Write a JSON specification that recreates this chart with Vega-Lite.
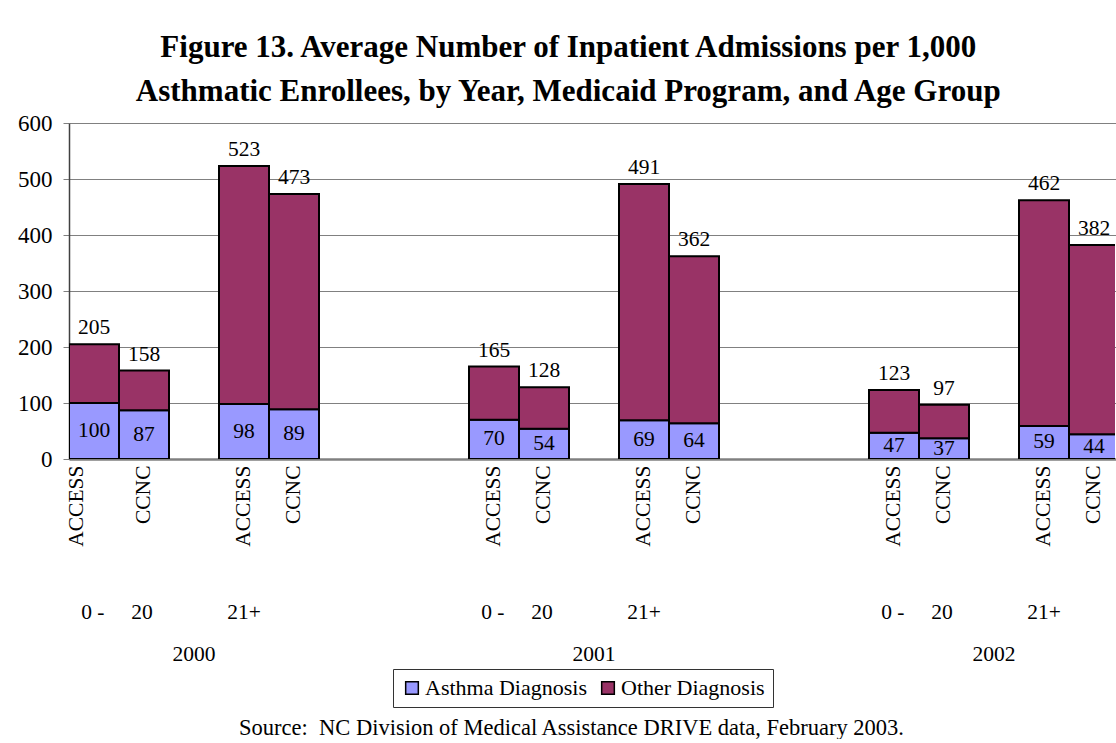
{
  "$schema": "https://vega.github.io/schema/vega-lite/v6.json",
  "width": 1046,
  "height": 336,
  "padding": {"left": 17, "top": 32, "right": 0, "bottom": 0},
  "background": "white",
  "config": {
    "font": "Liberation Serif",
    "view": {"stroke": null},
    "axis": {"labelColor": "black", "titleColor": "black", "labelFont": "Liberation Serif", "titleFont": "Liberation Serif"},
    "text": {"font": "Liberation Serif", "color": "black"}
  },
  "title": {
    "text": ["Figure 13. Average Number of Inpatient Admissions per 1,000", "Asthmatic Enrollees, by Year, Medicaid Program, and Age Group"],
    "font": "Liberation Serif",
    "fontSize": 31,
    "fontWeight": "bold",
    "lineHeight": 44,
    "color": "black",
    "anchor": "middle",
    "frame": "bounds",
    "offset": 4
  },
  "data": {
    "values": [
      {"year": "2000", "age": "0-20", "program": "ACCESS", "key": "2000|0-20|ACCESS", "diagnosis": "Asthma Diagnosis", "value": 100},
      {"year": "2000", "age": "0-20", "program": "ACCESS", "key": "2000|0-20|ACCESS", "diagnosis": "Other Diagnosis", "value": 105},
      {"year": "2000", "age": "0-20", "program": "CCNC", "key": "2000|0-20|CCNC", "diagnosis": "Asthma Diagnosis", "value": 87},
      {"year": "2000", "age": "0-20", "program": "CCNC", "key": "2000|0-20|CCNC", "diagnosis": "Other Diagnosis", "value": 71},
      {"year": "2000", "age": "21+", "program": "ACCESS", "key": "2000|21+|ACCESS", "diagnosis": "Asthma Diagnosis", "value": 98},
      {"year": "2000", "age": "21+", "program": "ACCESS", "key": "2000|21+|ACCESS", "diagnosis": "Other Diagnosis", "value": 425},
      {"year": "2000", "age": "21+", "program": "CCNC", "key": "2000|21+|CCNC", "diagnosis": "Asthma Diagnosis", "value": 89},
      {"year": "2000", "age": "21+", "program": "CCNC", "key": "2000|21+|CCNC", "diagnosis": "Other Diagnosis", "value": 384},
      {"year": "2001", "age": "0-20", "program": "ACCESS", "key": "2001|0-20|ACCESS", "diagnosis": "Asthma Diagnosis", "value": 70},
      {"year": "2001", "age": "0-20", "program": "ACCESS", "key": "2001|0-20|ACCESS", "diagnosis": "Other Diagnosis", "value": 95},
      {"year": "2001", "age": "0-20", "program": "CCNC", "key": "2001|0-20|CCNC", "diagnosis": "Asthma Diagnosis", "value": 54},
      {"year": "2001", "age": "0-20", "program": "CCNC", "key": "2001|0-20|CCNC", "diagnosis": "Other Diagnosis", "value": 74},
      {"year": "2001", "age": "21+", "program": "ACCESS", "key": "2001|21+|ACCESS", "diagnosis": "Asthma Diagnosis", "value": 69},
      {"year": "2001", "age": "21+", "program": "ACCESS", "key": "2001|21+|ACCESS", "diagnosis": "Other Diagnosis", "value": 422},
      {"year": "2001", "age": "21+", "program": "CCNC", "key": "2001|21+|CCNC", "diagnosis": "Asthma Diagnosis", "value": 64},
      {"year": "2001", "age": "21+", "program": "CCNC", "key": "2001|21+|CCNC", "diagnosis": "Other Diagnosis", "value": 298},
      {"year": "2002", "age": "0-20", "program": "ACCESS", "key": "2002|0-20|ACCESS", "diagnosis": "Asthma Diagnosis", "value": 47},
      {"year": "2002", "age": "0-20", "program": "ACCESS", "key": "2002|0-20|ACCESS", "diagnosis": "Other Diagnosis", "value": 76},
      {"year": "2002", "age": "0-20", "program": "CCNC", "key": "2002|0-20|CCNC", "diagnosis": "Asthma Diagnosis", "value": 37},
      {"year": "2002", "age": "0-20", "program": "CCNC", "key": "2002|0-20|CCNC", "diagnosis": "Other Diagnosis", "value": 60},
      {"year": "2002", "age": "21+", "program": "ACCESS", "key": "2002|21+|ACCESS", "diagnosis": "Asthma Diagnosis", "value": 59},
      {"year": "2002", "age": "21+", "program": "ACCESS", "key": "2002|21+|ACCESS", "diagnosis": "Other Diagnosis", "value": 403},
      {"year": "2002", "age": "21+", "program": "CCNC", "key": "2002|21+|CCNC", "diagnosis": "Asthma Diagnosis", "value": 44},
      {"year": "2002", "age": "21+", "program": "CCNC", "key": "2002|21+|CCNC", "diagnosis": "Other Diagnosis", "value": 338}
    ]
  },
  "resolve": {"axis": {"x": "independent"}},
  "layer": [
    {
      "mark": {"type": "bar", "stroke": "black", "strokeWidth": 2, "clip": true},
      "encoding": {
        "x": {
          "field": "key",
          "type": "nominal",
          "scale": {
            "domain": ["2000|0-20|ACCESS", "2000|0-20|CCNC", "2000|mid", "2000|21+|ACCESS", "2000|21+|CCNC", "gap1", "gap2", "gap3", "2001|0-20|ACCESS", "2001|0-20|CCNC", "2001|mid", "2001|21+|ACCESS", "2001|21+|CCNC", "gap4", "gap5", "gap6", "2002|0-20|ACCESS", "2002|0-20|CCNC", "2002|mid", "2002|21+|ACCESS", "2002|21+|CCNC"],
            "range": [0, 1050],
            "paddingInner": 0,
            "paddingOuter": 0
          },
          "axis": {
            "orient": "bottom",
            "title": null,
            "values": ["2000|0-20|ACCESS", "2000|0-20|CCNC", "2000|21+|ACCESS", "2000|21+|CCNC", "2001|0-20|ACCESS", "2001|0-20|CCNC", "2001|21+|ACCESS", "2001|21+|CCNC", "2002|0-20|ACCESS", "2002|0-20|CCNC", "2002|21+|ACCESS", "2002|21+|CCNC"],
            "labelExpr": "indexof(datum.value, 'ACCESS') >= 0 ? 'ACCESS' : 'CCNC'",
            "labelAngle": 270,
            "labelAlign": "right",
            "labelBaseline": "middle",
            "labelFontSize": 21.5,
            "labelPadding": 6,
            "labelOffset": {"condition": {"test": "datum.value === '2000|0-20|ACCESS'", "value": -17}, "value": 0},
            "ticks": false,
            "domain": false,
            "grid": false
          }
        },
        "y": {
          "field": "value",
          "type": "quantitative",
          "stack": "zero",
          "scale": {"domain": [0, 600], "nice": false},
          "axis": {
            "orient": "left",
            "title": null,
            "grid": true,
            "values": [0, 100, 200, 300, 400, 500, 600],
            "labelFontSize": 23,
            "labelPadding": 11,
            "tickSize": 6,
            "tickColor": "#808080",
            "domainColor": "#404040",
            "domainWidth": 1.5,
            "gridColor": "#808080",
            "gridWidth": {"condition": {"test": "datum.value === 0", "value": 2.5}, "value": 1}
          }
        },
        "color": {
          "field": "diagnosis",
          "type": "nominal",
          "scale": {"domain": ["Asthma Diagnosis", "Other Diagnosis"], "range": ["#9999FF", "#993366"]},
          "legend": {
            "title": null,
            "orient": "none",
            "legendX": 324,
            "legendY": 546,
            "direction": "horizontal",
            "symbolType": "square",
            "symbolSize": 160,
            "symbolStrokeColor": "black",
            "symbolStrokeWidth": 1.5,
            "labelFont": "Liberation Serif",
            "labelFontSize": 22,
            "labelColor": "black",
            "labelOffset": 2,
            "labelLimit": 300,
            "columnPadding": 10,
            "padding": 8,
            "strokeColor": "#333333"
          }
        },
        "order": {"field": "diagnosis", "sort": "ascending"}
      }
    },
    {
      "transform": [
        {"filter": "datum.diagnosis === 'Asthma Diagnosis'"},
        {"calculate": "datum.value / 2", "as": "mid"}
      ],
      "mark": {"type": "text", "fontSize": 21.5, "baseline": "middle", "color": "black"},
      "encoding": {
        "x": {"field": "key", "type": "nominal", "axis": null},
        "y": {"field": "mid", "type": "quantitative", "axis": {"title": null}},
        "text": {"field": "value", "type": "quantitative"}
      }
    },
    {
      "transform": [
        {"aggregate": [{"op": "sum", "field": "value", "as": "total"}], "groupby": ["key"]}
      ],
      "mark": {"type": "text", "fontSize": 21.5, "baseline": "alphabetic", "dy": -10, "color": "black"},
      "encoding": {
        "x": {"field": "key", "type": "nominal", "axis": null},
        "y": {"field": "total", "type": "quantitative", "axis": {"title": null}},
        "text": {"field": "total", "type": "quantitative"}
      }
    },
    {
      "mark": {"type": "text", "opacity": 0},
      "encoding": {
        "x": {
          "field": "key",
          "type": "nominal",
          "axis": {
            "orient": "bottom",
            "title": null,
            "values": ["2000|0-20|ACCESS", "2000|21+|ACCESS", "2001|0-20|ACCESS", "2001|21+|ACCESS", "2002|0-20|ACCESS", "2002|21+|ACCESS"],
            "labelExpr": "indexof(datum.value, '0-20') >= 0 ? '0 -\u00a0\u00a0\u00a0\u00a0\u00a020' : '21+'",
            "labelAngle": 0,
            "labelAlign": "center",
            "labelBaseline": "middle",
            "labelFontSize": 21.5,
            "labelPadding": 3,
            "labelOffset": {"condition": {"test": "indexof(datum.value, '0-20') >= 0", "value": 23}, "value": 0},
            "offset": 150,
            "ticks": false,
            "domain": false,
            "grid": false
          }
        }
      }
    },
    {
      "mark": {"type": "text", "opacity": 0},
      "encoding": {
        "x": {
          "field": "key",
          "type": "nominal",
          "axis": {
            "orient": "bottom",
            "title": "Source:\u00a0 NC Division of Medical Assistance DRIVE data, February 2003.",
            "titleFontSize": 22.5,
            "titleFontWeight": "normal",
            "titleX": 502,
            "titleY": 76,
            "titleAlign": "center",
            "titleBaseline": "middle",
            "values": ["2000|mid", "2001|mid", "2002|mid"],
            "labelExpr": "slice(datum.value, 0, 4)",
            "labelAngle": 0,
            "labelAlign": "center",
            "labelBaseline": "middle",
            "labelFontSize": 21.5,
            "labelPadding": 3,
            "offset": 192,
            "ticks": false,
            "domain": false,
            "grid": false
          }
        }
      }
    }
  ]
}
